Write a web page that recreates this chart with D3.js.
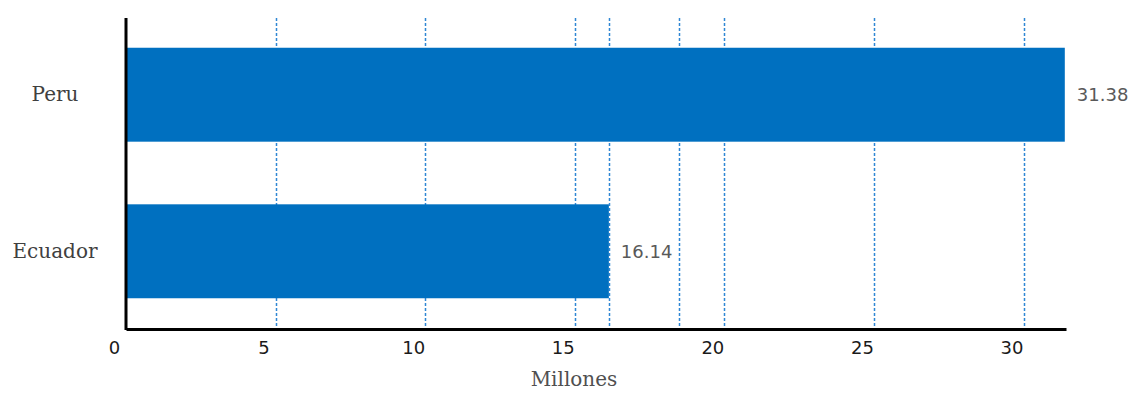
<!DOCTYPE html>
<meta charset="utf-8">

<!-- Load d3.js -->
<script src="https://d3js.org/d3.v7.min.js"></script>

<style>
    body { margin: 0; background: #fff; }
</style>

<!-- Create a div where the graph will take place -->
<div id="my_dataviz"></div>

<script>
    // data
    var countries = ["Peru", "Ecuador"]
    var population = [31.38, 16.14]
    var xTicks = [0, 5, 10, 15, 20, 25, 30]
    // dashed vertical lines (the picture has two extra ones between 15 and 20)
    var gridValues = [5, 10, 15, 16.14, 18.5, 20, 25, 30]
    var xTitle = "Millones"

    // set the dimensions and margins of the graph
    var width = 1132
    var height = 394
    var plotLeft = 126, plotRight = 1066, plotTop = 18, plotBottom = 329

    var svg = d3.select("#my_dataviz")
        .append("svg")
        .attr("width", width)
        .attr("height", height)

    // scales
    var x = d3.scaleLinear()
        .domain([0, 31.42])
        .range([plotLeft, plotRight])

    var y = d3.scaleBand()
        .domain(countries)
        .range([plotTop, plotBottom - 1])
        .paddingInner(0.4)
        .paddingOuter(0.19)

    // dashed grid lines
    svg.selectAll("line.grid")
        .data(gridValues)
        .enter()
        .append("line")
        .attr("class", "grid")
        .attr("x1", function(d) { return Math.round(x(d)) + 0.5 })
        .attr("x2", function(d) { return Math.round(x(d)) + 0.5 })
        .attr("y1", plotTop)
        .attr("y2", plotBottom)
        .attr("stroke", "#2f86d4")
        .attr("stroke-width", 1.5)
        .attr("stroke-dasharray", "3,2")

    // bars
    svg.selectAll("rect.bar")
        .data(countries)
        .enter()
        .append("rect")
        .attr("class", "bar")
        .attr("x", x(0))
        .attr("y", function(d) { return y(d) })
        .attr("width", function(d, i) { return x(population[i]) - x(0) })
        .attr("height", y.bandwidth())
        .attr("fill", "#0070c0")

    // value labels
    svg.selectAll("text.value")
        .data(countries)
        .enter()
        .append("text")
        .attr("class", "value")
        .attr("x", function(d, i) { return x(population[i]) + 12 })
        .attr("y", function(d) { return y(d) + y.bandwidth() / 2 })
        .attr("dy", "0.36em")
        .style("font-family", "DejaVu Sans")
        .style("font-size", "18px")
        .style("fill", "#595959")
        .text(function(d, i) { return population[i].toFixed(2) })

    // x axis
    var xAxis = svg.append("g")
        .attr("transform", "translate(0," + plotBottom + ")")
        .call(d3.axisBottom(x).tickValues(xTicks).tickSize(0).tickPadding(12))
    xAxis.select(".domain")
        .attr("stroke", "#000")
        .attr("stroke-width", 3)
    xAxis.selectAll("text")
        .attr("dx", -12)
        .style("font-family", "DejaVu Sans")
        .style("font-size", "18px")
        .style("fill", "#1a1a1a")

    // y axis
    var yAxis = svg.append("g")
        .attr("transform", "translate(" + plotLeft + ",0)")
        .call(d3.axisLeft(y).tickSize(0).tickPadding(71))
    yAxis.select(".domain")
        .attr("stroke", "#000")
        .attr("stroke-width", 3)
        .attr("d", "M0," + plotTop + "V" + (plotBottom + 1))
    yAxis.selectAll("text")
        .attr("text-anchor", "middle")
        .style("font-family", "DejaVu Serif")
        .style("font-size", "20px")
        .style("fill", "#404040")

    // axis title
    svg.append("text")
        .attr("x", (plotLeft + plotRight) / 2 - 22)
        .attr("y", 386)
        .attr("text-anchor", "middle")
        .style("font-family", "DejaVu Serif")
        .style("font-size", "20px")
        .style("fill", "#505050")
        .text(xTitle)
</script>
